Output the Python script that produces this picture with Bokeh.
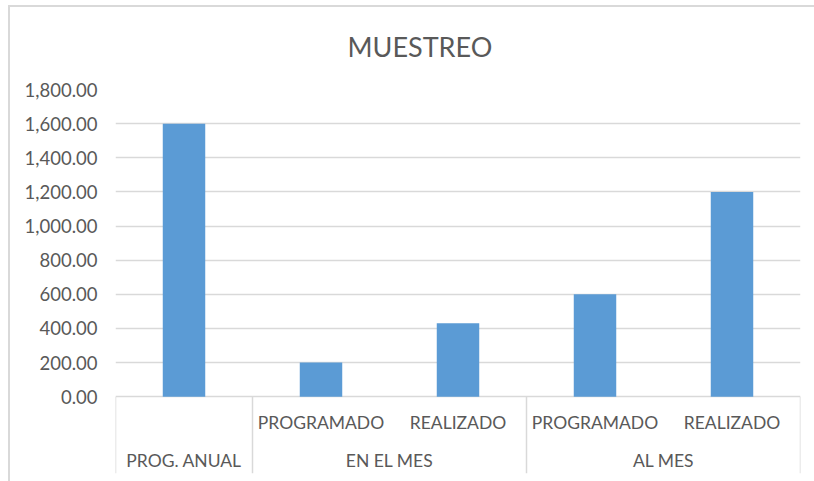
from bokeh.plotting import figure
from bokeh.models import FactorRange, Range1d, FixedTicker, NumeralTickFormatter, ColumnDataSource
from bokeh.core.properties import value
from bokeh.embed import file_html
from bokeh.resources import INLINE

# ---- data ----
title_text = "MUESTREO"
groups = ["PROG. ANUAL", "EN EL MES", "EN EL MES", "AL MES", "AL MES"]
subs = ["", "PROGRAMADO", "REALIZADO", "PROGRAMADO", "REALIZADO"]
values = [1600, 200, 430, 600, 1200]
y_ticks = [0, 200, 400, 600, 800, 1000, 1200, 1400, 1600, 1800]

# ---- styles ----
FONT = "Lato"
TXT = "#595959"
GRID = "#D9D9D9"
BAR = "#5B9BD5"
AXIS_SIZE = "17.5px"
Y_MAX = 1800
Y_EXT = -450  # room below zero for the two-level category labels

factors = list(zip(groups, subs))
x_range = FactorRange(factors=factors, factor_padding=0, subgroup_padding=0,
                      group_padding=0, range_padding=0)

chart_border = ("linear-gradient(#D9D9D9,#D9D9D9) 8px 5px / 2px 100% no-repeat, "
                "linear-gradient(#D9D9D9,#D9D9D9) 8px 5px / calc(100% - 8px) 2px no-repeat, white")

p = figure(x_range=x_range, y_range=Range1d(Y_EXT, Y_MAX), width=814, height=481,
           output_backend="svg", toolbar_location=None, x_axis_location=None,
           min_border_left=115, min_border_right=14, min_border_top=88,
           min_border_bottom=8, styles={"background": chart_border})
p.outline_line_color = None
p.background_fill_color = "white"
p.border_fill_color = None

# title
p.title.text = title_text
p.title.align = "left"
p.title.offset = 232
p.title.text_font = FONT
p.title.text_font_size = "27px"
p.title.text_font_style = "normal"
p.title.text_color = TXT
p.title.standoff = 54

# bars
src = ColumnDataSource(dict(x=factors, top=values))
p.vbar(x="x", top="top", width=0.31, source=src, fill_color=BAR, line_color=None)

# y axis / grid
p.yaxis.ticker = FixedTicker(ticks=y_ticks)
p.yaxis.formatter = NumeralTickFormatter(format="0,0.00")
p.yaxis.axis_line_color = None
p.yaxis.major_tick_line_color = None
p.yaxis.minor_tick_line_color = None
p.yaxis.major_tick_out = 0
p.yaxis.major_tick_in = 0
p.yaxis.major_label_standoff = 18
p.yaxis.major_label_text_font = FONT
p.yaxis.major_label_text_font_size = "18.5px"
p.yaxis.major_label_text_color = TXT
p.ygrid.ticker = FixedTicker(ticks=y_ticks)
p.ygrid.grid_line_color = GRID
p.ygrid.grid_line_width = 1.5
p.xgrid.grid_line_color = None

# category separators (group boundaries)
bounds = []
seen = []
for g, s in factors:
    if g not in seen:
        seen.append(g)
        bounds.append((g, s, -0.5))
bounds.append((factors[-1][0], factors[-1][1], 0.5))
sep = ColumnDataSource(dict(x=bounds, y0=[0] * len(bounds), y1=[Y_EXT] * len(bounds)))
p.segment(x0="x", y0="y0", x1="x", y1="y1", source=sep, line_color=GRID, line_width=1.5)

# sub-category labels
sub_x = [f for f in factors if f[1]]
sub_src = ColumnDataSource(dict(x=sub_x, y=[0] * len(sub_x), t=[f[1] for f in sub_x]))
p.text(x="x", y="y", text="t", source=sub_src, text_align="center", text_baseline="middle",
       y_offset=26, text_font=value(FONT), text_font_size=AXIS_SIZE, text_color=TXT)

# group labels
grp = seen
grp_src = ColumnDataSource(dict(x=grp, y=[0] * len(grp), t=grp))
p.text(x="x", y="y", text="t", source=grp_src, text_align="center", text_baseline="middle",
       y_offset=64, text_font=value(FONT), text_font_size=AXIS_SIZE, text_color=TXT)

open("out.html", "w").write(file_html(p, INLINE))
